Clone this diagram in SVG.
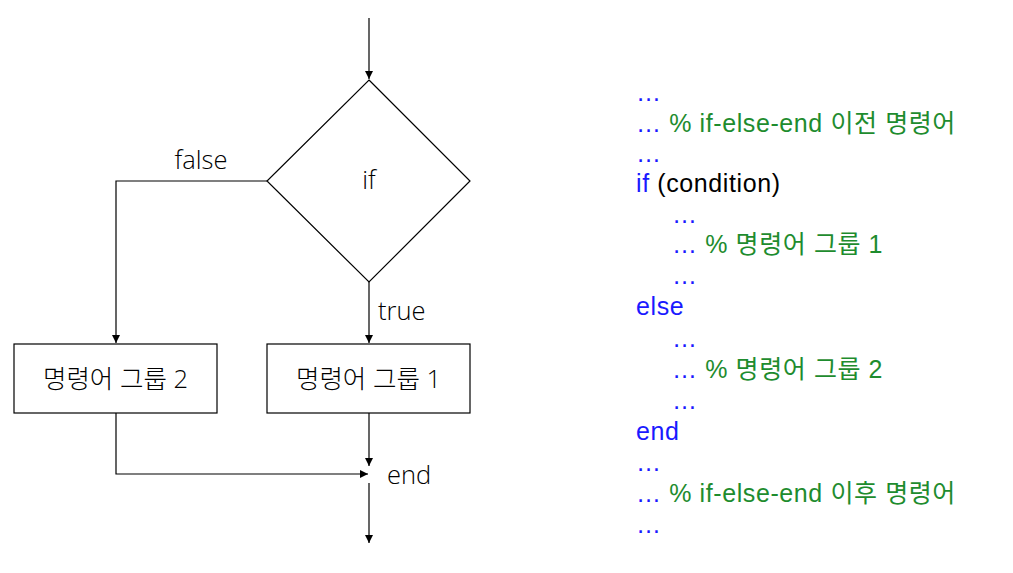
<svg xmlns="http://www.w3.org/2000/svg" width="1013" height="573" viewBox="0 0 1013 573">
<style>
.t{font-family:"Open Sans","Noto Sans CJK KR",sans-serif;font-weight:300;font-size:25.5px;fill:#000}
.c{font-family:"Liberation Sans","Noto Sans CJK KR",sans-serif;font-size:25px;letter-spacing:0.6px}
.b{fill:#1a1aff}.g{fill:#1e8c2e}.k{fill:#000}
.s{fill:#fff;stroke:#000;stroke-width:1.2}
.l{fill:none;stroke:#000;stroke-width:1.2}
</style>
<defs>
<marker id="a" markerWidth="10" markerHeight="10" refX="9" refY="5" orient="auto" markerUnits="userSpaceOnUse">
<path d="M1,1 L9,5 L1,9 z" fill="#000"/>
</marker>
</defs>
<rect width="1013" height="573" fill="#fff"/>
<g id="connectors">
<path class="l" d="M369,18 V79" marker-end="url(#a)"/>
<path class="l" d="M267,181 H116 V343" marker-end="url(#a)"/>
<path class="l" d="M369,282 V343" marker-end="url(#a)"/>
<path class="l" d="M369,413 V466" marker-end="url(#a)"/>
<path class="l" d="M116,413 V474 H368" marker-end="url(#a)"/>
<path class="l" d="M369,483 V543" marker-end="url(#a)"/>
<text class="t" x="201" y="169" text-anchor="middle">false</text>
<text class="t" x="378" y="320">true</text>
<text class="t" x="387" y="484">end</text>
</g>
<g id="if">
<polygon class="s" points="369,80 470,181 369,282 267,181"/>
<text class="t" x="369" y="189" text-anchor="middle">if</text>
</g>
<g id="group2">
<rect class="s" x="14" y="344" width="203" height="69"/>
<text class="t" x="115.5" y="388" text-anchor="middle">명령어 그룹 2</text>
</g>
<g id="group1">
<rect class="s" x="267" y="344" width="203" height="69"/>
<text class="t" x="368.5" y="388" text-anchor="middle">명령어 그룹 1</text>
</g>
<g id="code" class="c">
<text x="636" y="101" class="b">…</text>
<text x="636" y="132"><tspan class="b">…</tspan><tspan class="g"> % if-else-end 이전 명령어</tspan></text>
<text x="636" y="162" class="b">…</text>
<text x="636" y="192"><tspan class="b">if</tspan><tspan class="k"> (condition)</tspan></text>
<text x="672" y="223" class="b">…</text>
<text x="672" y="253"><tspan class="b">…</tspan><tspan class="g"> % 명령어 그룹 1</tspan></text>
<text x="672" y="284" class="b">…</text>
<text x="636" y="315" class="b">else</text>
<text x="672" y="347" class="b">…</text>
<text x="672" y="378"><tspan class="b">…</tspan><tspan class="g"> % 명령어 그룹 2</tspan></text>
<text x="672" y="409" class="b">…</text>
<text x="636" y="440" class="b">end</text>
<text x="636" y="471" class="b">…</text>
<text x="636" y="502"><tspan class="b">…</tspan><tspan class="g"> % if-else-end 이후 명령어</tspan></text>
<text x="636" y="533" class="b">…</text>
</g>
</svg>
